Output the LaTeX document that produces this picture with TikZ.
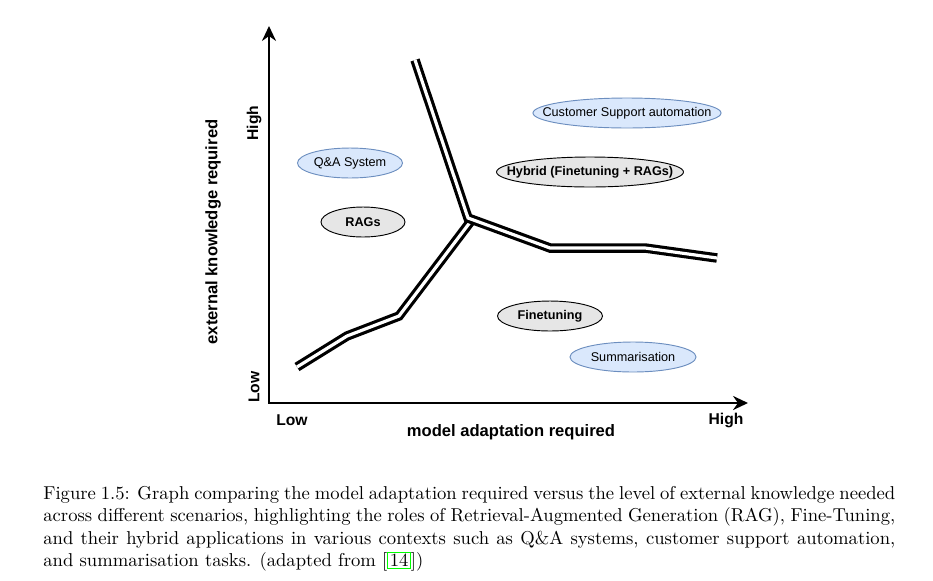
\documentclass[tikz,border=0pt]{standalone}
\usepackage{fontspec}
\newfontfamily\arial{Liberation Sans}
\usetikzlibrary{arrows.meta,shapes.geometric}
\definecolor{qablue}{HTML}{DAE8FC}\definecolor{qaedge}{HTML}{6C8EBF}
\definecolor{methodgray}{HTML}{E6E6E6}\definecolor{citegreen}{HTML}{00FF00}
\newcommand{\inell}[1]{\makebox[0pt]{#1}}
\tikzset{>=Stealth,every node/.style={font=\arial\fontsize{6.8}{8}\selectfont},
axisline/.style={line width=1.5pt,<->,>={Stealth[length=8pt,width=7.5pt]},line join=miter},
divide/.style={line width=1.7pt,double,double distance=1.7pt,line join=miter},
usecase/.style={ellipse,draw=qaedge,fill=qablue,line width=.5pt,inner sep=0pt,minimum height=16.1pt},
method/.style={ellipse,draw=black,fill=methodgray,line width=.5pt,inner sep=0pt,minimum height=16.1pt,font=\arial\bfseries\fontsize{6.8}{8}\selectfont},
ticklabel/.style={font=\arial\bfseries\fontsize{8.4}{10}\selectfont},
axislabel/.style={font=\arial\bfseries\fontsize{8.9}{10}\selectfont}}

\begin{document}
\begin{tikzpicture}[x=0.537pt,y=-0.537pt]
\useasboundingbox (0,0) rectangle (933,580);
% axes
\coordinate (O) at (269,403);\coordinate (ytop) at (269,26);\coordinate (xend) at (748,403);
\draw[axisline] (ytop)--(O)--(xend);
\node[ticklabel,rotate=90] (yhigh) at (254,123){High};\node[ticklabel,rotate=90] (ylow) at (254,387){Low};
\node[ticklabel] (xlow) at (292,420){Low};\node[ticklabel] (xhigh) at (726,420){High};
\node[axislabel] (xname) at (511,432){model adaptation required};
\node[axislabel,rotate=90] (yname) at (213,232){external knowledge required};
% boundary lines
\coordinate (lstart) at (297,367);\coordinate (l1) at (347,336);\coordinate (l2) at (399,316);\coordinate (ljoin) at (471,221);
\coordinate (top) at (415,60);\coordinate (fork) at (468,218);\coordinate (r1) at (550,248);\coordinate (r2) at (645,248);\coordinate (rend) at (717,258);
\draw[divide] (lstart)--(l1)--(l2)--(ljoin);
\draw[divide] (top)--(fork)--(r1)--(r2)--(rend);
% regions
\node[usecase,minimum width=56.4pt] (qa) at (350,163){\inell{Q\&A System}};
\node[method,minimum width=45.1pt] (rags) at (363,222){\inell{RAGs}};
\node[usecase,minimum width=101pt] (support) at (627,113){\inell{Customer Support automation}};
\node[method,minimum width=100.4pt] (hybrid) at (590,172){\inell{Hybrid (Finetuning + RAGs)}};
\node[method,minimum width=56.4pt] (finetune) at (550,316){\inell{Finetuning}};
\node[usecase,minimum width=67.7pt] (summ) at (633,357){\inell{Summarisation}};
% caption
\node[anchor=north west,inner sep=0pt,text width=457.5pt,align=justify,font=\normalfont\normalsize] (caption) at (43,486){Figure 1.5: Graph comparing the model adaptation required versus the level of external knowledge needed\linebreak across different scenarios, highlighting the roles of Retrieval-Augmented Generation (RAG), Fine-Tuning,\linebreak and their hybrid applications in various contexts such as Q\&A systems, customer support automation,\linebreak and summarisation tasks. (adapted from [{\fboxsep=.8pt\fboxrule=.5pt\fcolorbox{citegreen}{white}{14}}])};
\end{tikzpicture}
\end{document}
